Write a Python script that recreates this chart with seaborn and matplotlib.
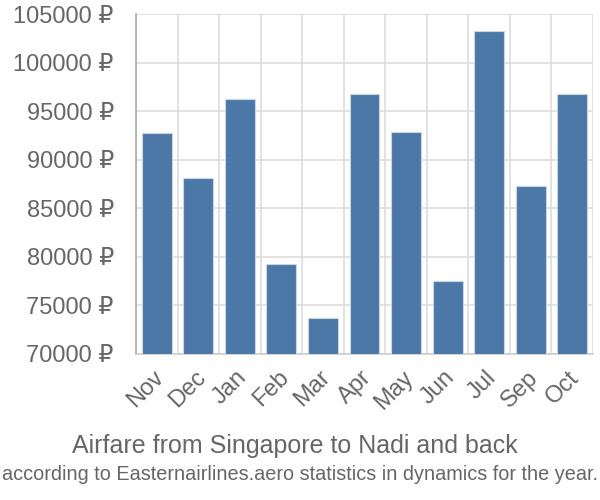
import matplotlib
matplotlib.use("Agg")
import matplotlib.pyplot as plt
import matplotlib.transforms as mtransforms
import seaborn as sns
import pandas as pd
import numpy as np
from matplotlib.ticker import FixedLocator

months = ["Nov", "Dec", "Jan", "Feb", "Mar", "Apr", "May", "Jun", "Jul", "Sep", "Oct"]
prices = [92700, 88100, 96250, 79250, 73700, 96800, 92850, 77530, 103280, 87250, 96760]
yticks = [70000, 75000, 80000, 85000, 90000, 95000, 100000, 105000]
title = "Airfare from Singapore to Nadi and back"
subtitle = "according to Easternairlines.aero statistics in dynamics for the year."

sns.set_style("white")
plt.rcParams['font.family'] = ['Liberation Sans', 'DejaVu Sans']

df = pd.DataFrame({"month": months, "price": prices})

fig = plt.figure(figsize=(6, 5), dpi=100)
ax = fig.add_axes([136/600, 1-354/500, (593-136)/600, (354-14)/500])

sns.barplot(data=df, x="month", y="price", ax=ax, color="#4c78a8", saturation=1,
            width=0.72, edgecolor="#c9d6e6", linewidth=0.8, zorder=3)

ax.set_ylim(70000, 105000)
ax.set_xlim(-0.5, len(months) - 0.5)
ax.set_yticks(yticks)
ax.set_yticklabels([f"{v} ₽" for v in yticks])
ax.set_xlabel("")
ax.set_ylabel("")

grid_c = "#dddddd"
text_c = "#666666"
ax.grid(axis="y", color=grid_c, linewidth=1.2, zorder=0)
ax.xaxis.set_minor_locator(FixedLocator(np.arange(-0.5, len(months), 1.0)))
ax.grid(axis="x", which="minor", color=grid_c, linewidth=1.2, zorder=0)
ax.tick_params(axis="x", which="major", length=0, pad=9, labelsize=17, labelcolor=text_c)
ax.tick_params(axis="x", which="minor", length=13.7, width=1.2, color=grid_c)
ax.tick_params(axis="y", length=15, width=1.2, color=grid_c, labelsize=17, labelcolor=text_c, pad=1)
offset = mtransforms.ScaledTranslation(-4/100, 0, fig.dpi_scale_trans)
for lab in ax.get_xticklabels():
    lab.set_rotation(45)
    lab.set_ha("right")
    lab.set_va("top")
    lab.set_rotation_mode("anchor")
    lab.set_transform(lab.get_transform() + offset)

for s in ["top", "right"]:
    ax.spines[s].set_visible(False)
ax.spines["left"].set_color("#aaaaaa")
ax.spines["left"].set_linewidth(1.2)
ax.spines["left"].set_bounds(70000, 105000)
ax.spines["bottom"].set_color("#cccccc")
ax.spines["bottom"].set_linewidth(1.2)

fig.text(295/600, 1-446/500, title, ha="center", va="center", fontsize=18, color=text_c)
fig.text(0.5, 1-475/500, subtitle, ha="center", va="center", fontsize=14.3, color=text_c)

fig.savefig("out.png", dpi=100)
